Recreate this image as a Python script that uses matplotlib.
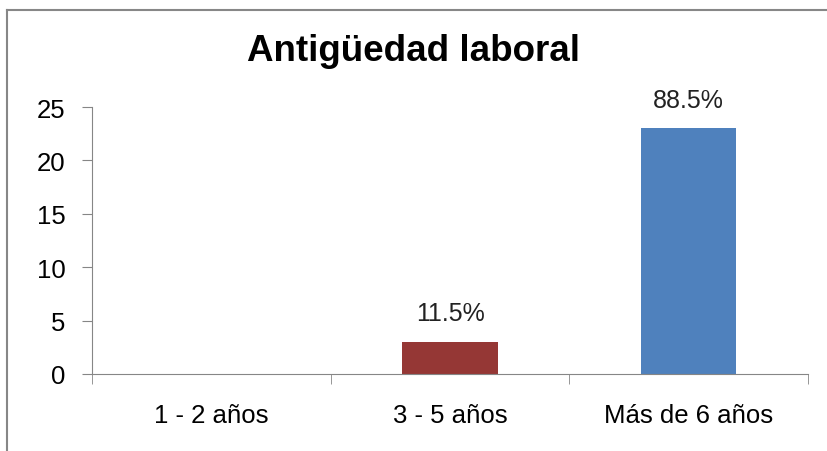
import numpy as np
from matplotlib import pyplot as plt
from matplotlib.lines import Line2D

categories = ["1 - 2 años", "3 - 5 años", "Más de 6 años"]
values = [0, 3, 23]
labels = ["", "11.5%", "88.5%"]
colors = ["#4F81BD", "#953735", "#4F81BD"]
yticks = [0, 5, 10, 15, 20, 25]

fig = plt.figure(figsize=(8.27, 4.52), dpi=100)
ax = fig.add_axes([92 / 827, 77 / 452, 716 / 827, 267 / 452])

x = np.arange(len(categories))
ax.bar(x, values, width=0.4, color=colors)
for xi, v, lab in zip(x, values, labels):
    if lab:
        ax.annotate(lab, (xi, v), xytext=(0, 12), textcoords="offset points",
                    ha="center", va="bottom", fontsize=18,
                    family="Liberation Sans", color="#222222")

ax.set_xlim(-0.5, len(categories) - 0.5)
ax.set_ylim(0, 25)
ax.set_yticks(yticks)
ax.set_xticks(x)
ax.set_xticklabels(categories, family="Liberation Sans", fontsize=18.5)
ax.set_xticks(np.arange(len(categories) + 1) - 0.5, minor=True)
ax.tick_params(axis="x", which="major", length=0, pad=21)
ax.tick_params(axis="x", which="minor", length=7, direction="out", color="#868686")
ax.tick_params(axis="y", length=7, direction="out", color="#868686", labelsize=18.5, pad=12)
for t in ax.get_yticklabels():
    t.set_family("Liberation Sans")

for s in ["top", "right"]:
    ax.spines[s].set_visible(False)
for s in ["left", "bottom"]:
    ax.spines[s].set_color("#868686")

fig.text(0.5, 0.885, "Antigüedad laboral", ha="center", va="center",
         fontsize=26.5, fontweight="bold", family="Liberation Sans")

# outer chart frame (cut off at right and bottom)
fig.add_artist(Line2D([7 / 827, 1], [1 - 11 / 452, 1 - 11 / 452], color="#878787", linewidth=1.5))
fig.add_artist(Line2D([7 / 827, 7 / 827], [0, 1 - 11 / 452], color="#878787", linewidth=1.5))

fig.savefig("out.png", dpi=100)
